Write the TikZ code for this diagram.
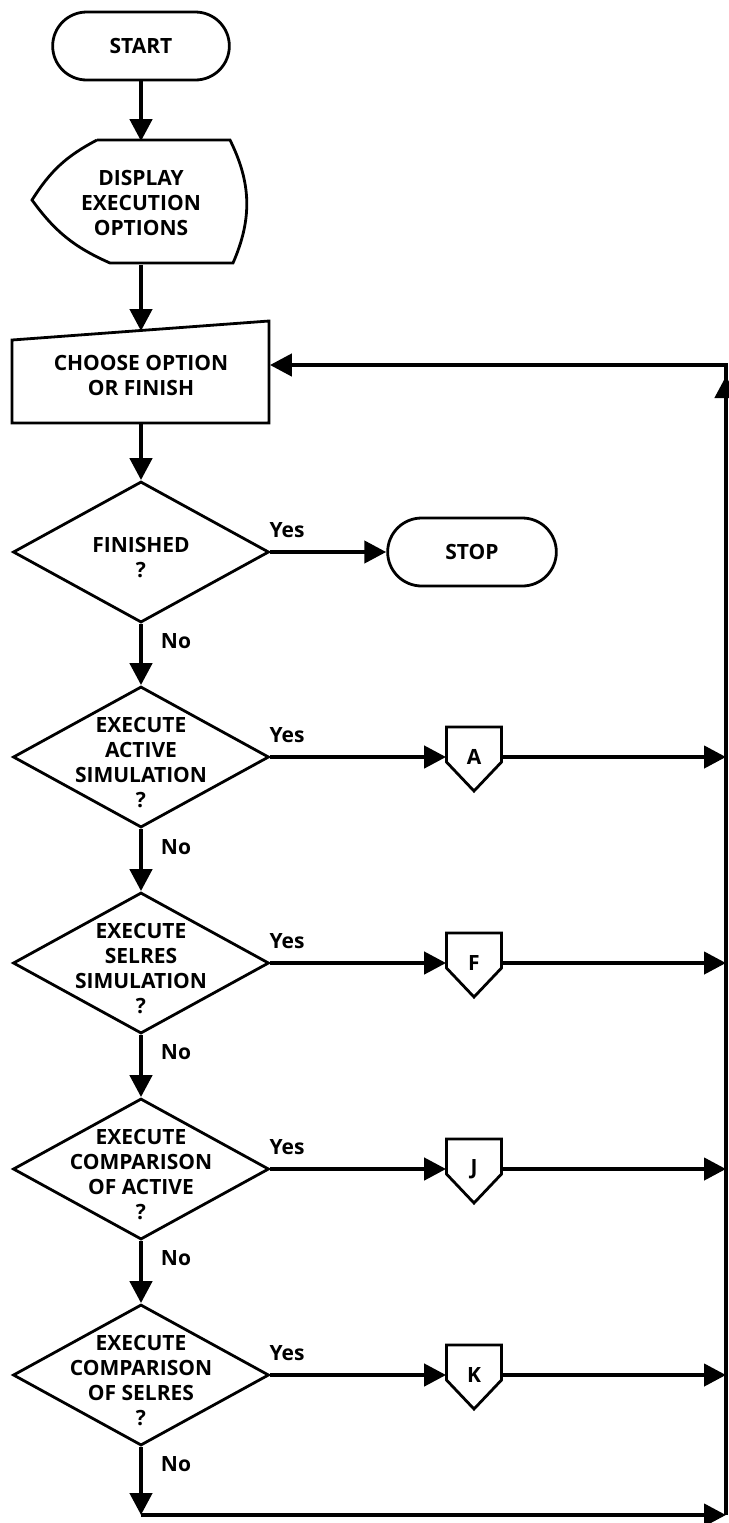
\documentclass[tikz,border=0pt]{standalone}
\usepackage{fontspec}
\setmainfont{Open Sans}
\usetikzlibrary{positioning,shapes.geometric,shapes.misc,arrows.meta,calc}

\begin{document}
\begin{tikzpicture}[x=0.5pt,y=-0.5pt,
  font=\fontsize{10.5}{12.5}\selectfont\bfseries,
  outline/.style={line width=1.4pt},
  terminal/.style={rounded rectangle, draw, outline, minimum width=95pt, minimum height=34pt},
  decision/.style={diamond, draw, outline, minimum width=128pt, minimum height=70.5pt, inner sep=0pt},
  dtext/.style={align=center, inner sep=0pt, yshift=-3pt},
  offpage/.style={minimum width=27.5pt, minimum height=10pt, inner sep=0pt},
  flow/.style={line width=2.2pt, -{Triangle[length=11pt,width=11pt]}},
  answer/.style={inner sep=0pt}]

\useasboundingbox (0,0) rectangle (729,1523);

% start, display, choose
\node[terminal] (start) at (141,46) {START};
\node[minimum height=61.5pt, align=center, inner sep=0pt] (disp) at (141,203) {DISPLAY\\EXECUTION\\OPTIONS};
\draw[outline] (97,140) -- (230,140) to[bend left=25] (233,263) -- (110,263)
  to[bend left=15] (32,200) to[bend left=15] (97,140);
\node[minimum width=128.5pt, minimum height=48pt, align=center, inner sep=0pt] (choose) at (141,375) {CHOOSE OPTION\\OR FINISH};
\draw[outline] (12,340) -- (269,321) -- (269,423) -- (12,423) -- cycle;
\coordinate (chooseTop) at (141,331);

% decisions
\node[decision, label={[dtext]center:FINISHED\\?}] (qfin) at (141,552) {};
\node[decision, label={[dtext]center:EXECUTE\\ACTIVE\\SIMULATION\\?}] (qact) at (141,757) {};
\node[decision, label={[dtext]center:EXECUTE\\SELRES\\SIMULATION\\?}] (qsel) at (141,963) {};
\node[decision, label={[dtext]center:EXECUTE\\COMPARISON\\OF ACTIVE\\?}] (qcact) at (141,1169) {};
\node[decision, label={[dtext]center:EXECUTE\\COMPARISON\\OF SELRES\\?}] (qcsel) at (141,1375) {};

\node[terminal, minimum width=91pt] (stop) at (472,552) {STOP};

% off-page connectors
\node[offpage] (conA) at (474,757) {A};
\node[offpage] (conF) at (474,963) {F};
\node[offpage] (conJ) at (474,1169) {J};
\node[offpage] (conK) at (474,1375) {K};
\foreach \c in {conA,conF,conJ,conK}
  \draw[outline] ($(\c.center)+(-27.5,-30)$) -- ($(\c.center)+(27.5,-30)$) -- ($(\c.center)+(27.5,5)$)
    -- ($(\c.center)+(0,34)$) -- ($(\c.center)+(-27.5,5)$) -- cycle;

% yes / no
\node[answer] (yfin) at (287,530) {Yes};
\node[answer] (yact) at (287,735) {Yes};
\node[answer] (ysel) at (287,941) {Yes};
\node[answer] (ycact) at (287,1147) {Yes};
\node[answer] (ycsel) at (287,1353) {Yes};
\node[answer] (nfin) at (176,641) {No};
\node[answer] (nact) at (176,847) {No};
\node[answer] (nsel) at (176,1052) {No};
\node[answer] (ncact) at (176,1258) {No};
\node[answer] (ncsel) at (176,1464) {No};

% return bus
\coordinate (busTop) at (726,365);
\coordinate (busBot) at (726,1515);
\coordinate (upBase) at (726,400);
\coordinate (upTip) at (726,376);

\draw[flow] (start.south) -- (disp.north);
\draw[flow] (disp.south) -- (chooseTop);
\draw[flow] (choose.south) -- (qfin.north);
\draw[flow] (qfin.east) -- (stop.west);
\foreach \a/\b in {qfin/qact,qact/qsel,qsel/qcact,qcact/qcsel}
  \draw[flow] (\a.south) -- (\b.north);
\foreach \q/\c in {qact/conA,qsel/conF,qcact/conJ,qcsel/conK}{
  \draw[flow] (\q.east) -- (\q.east -| \c.west);
  \draw[flow] (\c.east) -- (\c.east -| busTop);
}
\draw[flow] (qcsel.south) -- (qcsel.south |- busBot);
\draw[flow] (qcsel.south |- busBot) -- (busBot);
\draw[flow] (busBot) -- (busTop) -- (busTop -| choose.east);
\draw[flow] (upBase) -- (upTip);
\end{tikzpicture}
\end{document}
